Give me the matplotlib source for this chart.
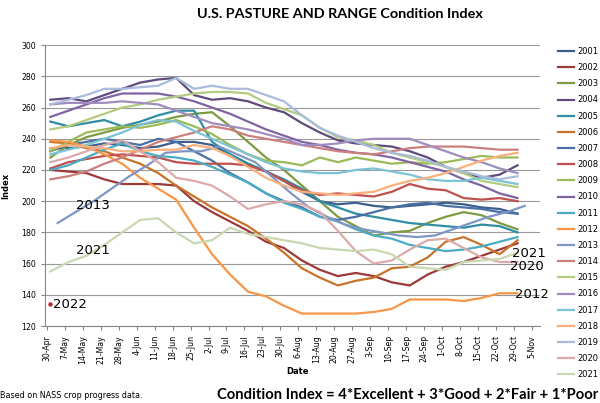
import numpy as np
import matplotlib.pyplot as plt

weeks = ['30-Apr', '7-May', '14-May', '21-May', '28-May', '4-Jun', '11-Jun', '18-Jun',
         '25-Jun', '2-Jul', '9-Jul', '16-Jul', '23-Jul', '30-Jul', '6-Aug', '13-Aug',
         '20-Aug', '27-Aug', '3-Sep', '10-Sep', '17-Sep', '24-Sep', '1-Oct', '8-Oct',
         '15-Oct', '22-Oct', '29-Oct', '5-Nov']

y2001 = [234, 234, 235, 237, 236, 234, 235, 238, 238, 236, 230, 224, 219, 213, 206, 200, 198, 199, 197, 196, 197, 198, 199, 198, 196, 195, 192]
y2002 = [220, 219, 218, 214, 211, 211, 211, 210, 200, 193, 187, 181, 174, 170, 162, 156, 152, 154, 152, 148, 146, 153, 158, 161, 165, 169, 173]
y2003 = [228, 236, 241, 244, 247, 249, 251, 254, 256, 257, 248, 238, 228, 220, 210, 200, 190, 184, 178, 180, 181, 186, 190, 193, 191, 186, 182]
y2004 = [265, 266, 264, 268, 272, 276, 278, 279, 268, 265, 266, 264, 260, 257, 250, 244, 239, 237, 236, 235, 232, 228, 222, 218, 215, 217, 223]
y2005 = [251, 248, 250, 252, 248, 251, 255, 258, 258, 238, 230, 224, 219, 214, 208, 200, 196, 192, 190, 188, 186, 185, 184, 183, 185, 184, 180]
y2006 = [238, 237, 234, 232, 228, 224, 218, 210, 203, 196, 190, 184, 176, 167, 157, 151, 146, 149, 151, 157, 158, 164, 174, 177, 172, 166, 175]
y2007 = [232, 236, 238, 240, 238, 236, 240, 238, 232, 226, 218, 212, 205, 200, 196, 190, 188, 190, 193, 196, 198, 199, 197, 196, 195, 193, 192]
y2008 = [221, 225, 227, 229, 230, 229, 228, 225, 224, 224, 224, 223, 219, 213, 207, 204, 205, 204, 203, 206, 211, 208, 207, 202, 201, 202, 200]
y2009 = [232, 238, 244, 246, 248, 247, 249, 252, 248, 243, 236, 230, 226, 225, 223, 228, 225, 228, 226, 224, 225, 224, 225, 227, 229, 228, 228]
y2010 = [254, 258, 262, 266, 269, 269, 269, 267, 264, 260, 256, 251, 246, 242, 238, 236, 233, 231, 230, 228, 225, 222, 219, 214, 210, 205, 202]
y2011 = [220, 223, 228, 233, 237, 232, 229, 228, 226, 222, 217, 212, 205, 199, 195, 190, 187, 182, 178, 176, 172, 170, 168, 169, 171, 174, 177]
y2012 = [239, 238, 235, 230, 224, 215, 208, 201, 183, 166, 153, 142, 139, 133, 128, 128, 128, 128, 129, 131, 137, 137, 137, 136, 138, 141, 141]
y2013 = [186, 193, 200, 208, 216, 223, 231, 232, 232, 235, 230, 225, 215, 205, 196, 190, 185, 182, 180, 178, 177, 178, 182, 186, 190, 193, 197]
y2014 = [214, 216, 219, 224, 228, 233, 238, 241, 244, 248, 246, 242, 240, 238, 236, 234, 232, 231, 230, 232, 234, 235, 235, 235, 234, 233, 233]
y2015 = [246, 248, 252, 256, 260, 262, 265, 267, 269, 270, 270, 269, 263, 259, 255, 247, 241, 239, 236, 231, 228, 225, 222, 218, 213, 211, 209]
y2016 = [262, 263, 263, 263, 264, 263, 262, 258, 254, 250, 248, 246, 243, 240, 236, 236, 237, 239, 240, 240, 240, 236, 232, 228, 225, 221, 218]
y2017 = [230, 233, 236, 240, 244, 249, 252, 251, 245, 240, 235, 230, 225, 221, 219, 218, 218, 220, 221, 219, 217, 214, 213, 213, 215, 213, 211]
y2018 = [234, 236, 235, 234, 232, 232, 233, 233, 236, 234, 229, 222, 215, 210, 206, 205, 204, 205, 206, 210, 213, 215, 218, 222, 226, 229, 231]
y2019 = [262, 265, 268, 272, 272, 273, 274, 279, 272, 274, 272, 272, 268, 264, 255, 247, 242, 238, 234, 231, 229, 226, 222, 219, 216, 214, 216]
y2020 = [225, 228, 232, 236, 239, 232, 225, 215, 213, 210, 203, 195, 198, 200, 198, 193, 181, 168, 160, 162, 169, 175, 176, 170, 164, 161, 161]
y2021 = [155, 161, 165, 172, 180, 188, 189, 180, 173, 175, 183, 179, 177, 175, 173, 170, 169, 168, 169, 166, 158, 157, 156, 161, 162, 163, 167]
y2022 = [134]

years = list(range(2001, 2023))
series = [y2001, y2002, y2003, y2004, y2005, y2006, y2007, y2008, y2009, y2010, y2011,
          y2012, y2013, y2014, y2015, y2016, y2017, y2018, y2019, y2020, y2021, y2022]
colors = ['#3C5F8D', '#9B3A38', '#7E9A43', '#5F4B7C', '#2F8EA3', '#C8732A',
          '#4A6FA5', '#C0504D', '#9BBB59', '#8064A2', '#4BACC6', '#F79646',
          '#7F96C5', '#CD7F7E', '#B3CB80', '#A08CBE', '#7CC3D6', '#F9B07A',
          '#A9BCDB', '#DDAAAA', '#C9D8B0', '#C0282D']
start = {2013: 0.6, 2022: 0.17}

fig = plt.figure(figsize=(6, 4.03), dpi=100)
ax = fig.add_axes([0.075, 0.191, 0.825, 0.697])

for yr, vals, c in zip(years, series, colors):
    x = np.arange(len(vals)) + start.get(yr, 0.2)
    if yr == 2022:
        ax.plot(x, vals, 'o', color=c, ms=2.2)
    else:
        ax.plot(x, vals, color=c, lw=1.6, label=str(yr))

ax.set_ylim(120, 300)
ax.set_yticks(range(120, 301, 20))
ax.set_xlim(-0.1, 27.45)
ax.set_xticks(range(len(weeks)))
ax.set_xticklabels(weeks, rotation=90, fontsize=5.6)
ax.tick_params(axis='y', labelsize=5.6, length=3, color='#888888')
ax.tick_params(axis='x', length=3, color='#888888')
ax.grid(axis='y', color='#999999', lw=0.8)
ax.set_axisbelow(True)
for s in ['top', 'right']:
    ax.spines[s].set_visible(False)
for s in ['left', 'bottom']:
    ax.spines[s].set_color('#888888')

ax.set_ylabel('Index', fontsize=6, fontweight='bold', labelpad=8)
ax.set_xlabel('Date', fontsize=6, fontweight='bold')
ax.xaxis.set_label_coords(0.51, -0.145)

ax.text(1.65, 197.5, '2013', fontsize=9.5, va='center')
ax.text(1.65, 168.6, '2021', fontsize=9.5, va='center')
ax.text(0.35, 134, '2022', fontsize=9.5, va='center')
ax.text(25.9, 166.5, '2021', fontsize=9.5, va='center')
ax.text(25.8, 158, '2020', fontsize=9.5, va='center')
ax.text(26.05, 140.5, '2012', fontsize=9.5, va='center')

fig.text(0.567, 0.965, 'U.S. PASTURE AND RANGE Condition Index', ha='center', va='center',
         fontsize=10.4, fontweight='bold', family='Lato')
fig.text(0.0, 0.018, 'Based on NASS crop progress data.', fontsize=5.8, va='center')
fig.text(0.997, 0.02, 'Condition Index = 4*Excellent + 3*Good + 2*Fair + 1*Poor',
         ha='right', va='center', fontsize=10.6, fontweight='bold', family='Lato')

fig.legend(loc='upper left', bbox_to_anchor=(0.918, 0.902), frameon=False, fontsize=6,
           handlelength=1.9, labelspacing=0.86, handletextpad=0.35)

plt.savefig('out.png', dpi=100)
